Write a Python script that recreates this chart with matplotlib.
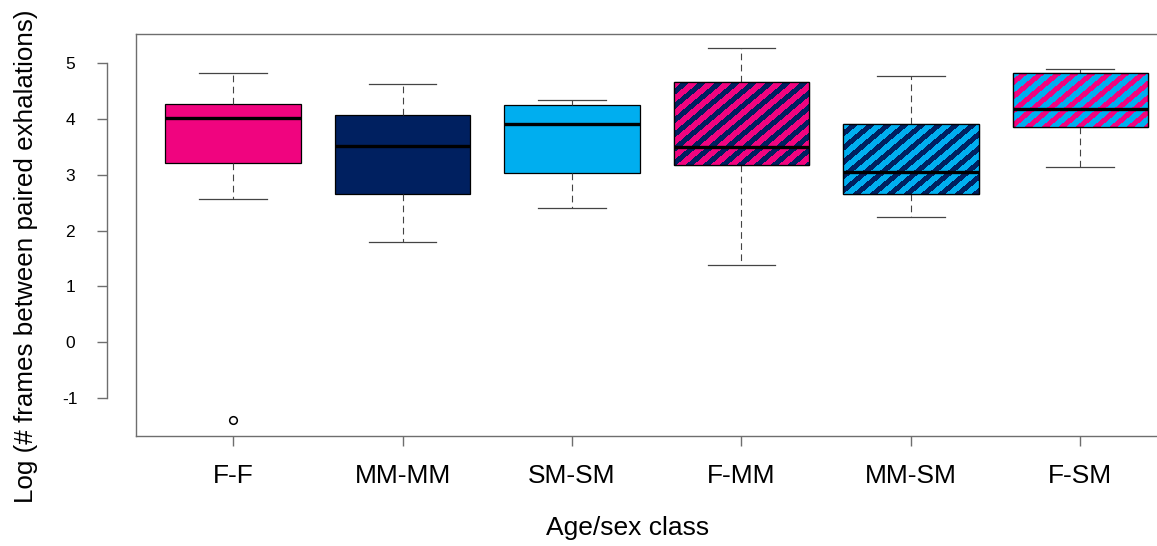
import numpy as np
import matplotlib
matplotlib.use("Agg")
import matplotlib.pyplot as plt
from matplotlib.patches import Polygon

plt.rcParams['font.family'] = ['Liberation Sans', 'DejaVu Sans']

categories = ["F-F", "MM-MM", "SM-SM", "F-MM", "MM-SM", "F-SM"]
whislo = [2.57, 1.79, 2.40, 1.39, 2.25, 3.14]
q1 = [3.20, 2.66, 3.03, 3.17, 2.65, 3.86]
med = [4.01, 3.52, 3.90, 3.49, 3.05, 4.17]
q3 = [4.27, 4.07, 4.24, 4.65, 3.91, 4.82]
whishi = [4.82, 4.63, 4.34, 5.26, 4.76, 4.89]
fliers = [[-1.39], [], [], [], [], []]
yticks = [-1, 0, 1, 2, 3, 4, 5]

PINK = '#F0047F'
NAVY = '#002060'
LBLUE = '#00AEEF'
face_colors = [PINK, NAVY, LBLUE, NAVY, NAVY, PINK]
stripe_colors = [None, None, None, PINK, LBLUE, LBLUE]

W, H = 1157, 546
DPI = 100
fig = plt.figure(figsize=(W / DPI, H / DPI), dpi=DPI)
ax_left, ax_right, ax_top, ax_bot = 135.7, 1182.0, 34.0, 436.0
ax = fig.add_axes([ax_left / W, 1 - ax_bot / H, (ax_right - ax_left) / W, (ax_bot - ax_top) / H])

stats = []
for i, c in enumerate(categories):
    stats.append(dict(label=c, whislo=whislo[i], q1=q1[i], med=med[i], q3=q3[i],
                      whishi=whishi[i], fliers=fliers[i]))

positions = np.arange(1, len(categories) + 1)
bp = ax.bxp(stats, positions=positions, widths=0.8, patch_artist=True,
            showfliers=True, capwidths=0.4,
            boxprops=dict(edgecolor='black', linewidth=0.9),
            whiskerprops=dict(color='#444444', linewidth=0.8, linestyle=(0, (6, 4))),
            capprops=dict(color='#444444', linewidth=0.9),
            medianprops=dict(color='black', linewidth=2.4, solid_capstyle='butt'),
            flierprops=dict(marker='o', markersize=5.5, markerfacecolor='none',
                            markeredgecolor='black', markeredgewidth=1.1))

xlim = (0.425, 6.6)
ylim = (-1.679, 5.518)
ax.set_xlim(*xlim)
ax.set_ylim(*ylim)

# pixel scales
sx = (ax_right - ax_left) / (xlim[1] - xlim[0])
sy = (ax_bot - ax_top) / (ylim[1] - ylim[0])

theta = np.deg2rad(40)
period = 17.0      # horizontal period, px
sw = 7.0           # horizontal stripe width, px

for i, patch in enumerate(bp['boxes']):
    patch.set_facecolor(face_colors[i])
    if stripe_colors[i] is None:
        continue
    x0 = positions[i] - 0.4
    x1 = positions[i] + 0.4
    yb, yt = q1[i], q3[i]
    hpx = (yt - yb) * sy
    wpx = (x1 - x0) * sx
    shift = hpx / np.tan(theta)
    u = -shift - period
    while u < wpx + period:
        verts_px = [(u, 0), (u + sw, 0), (u + sw + shift, hpx), (u + shift, hpx)]
        verts = [(x0 + px / sx, yb + py / sy) for px, py in verts_px]
        poly = Polygon(verts, closed=True, facecolor=stripe_colors[i], edgecolor='none',
                       antialiased=False, zorder=patch.get_zorder() + 0.1)
        ax.add_patch(poly)
        poly.set_clip_path(patch)
        u += period
    # redraw the box outline above the stripes
    outline = Polygon(patch.get_path().vertices, closed=True, facecolor='none',
                      edgecolor='black', linewidth=0.9, zorder=patch.get_zorder() + 0.2)
    ax.add_patch(outline)

for m in bp['medians']:
    m.set_zorder(5)

# frame
FRAME = '#6e6e6e'
for s in ['top', 'right', 'bottom']:
    ax.spines[s].set_color(FRAME)
    ax.spines[s].set_linewidth(1.0)
ax.plot([0, 0], [0, 1], transform=ax.transAxes, color=FRAME, linewidth=1.0,
        clip_on=False, zorder=6)

# separate y axis (R style)
ax.spines['left'].set_position(('outward', 28.4 * 72 / DPI))
ax.spines['left'].set_bounds(-1, 5)
ax.spines['left'].set_color(FRAME)
ax.spines['left'].set_linewidth(1.0)
ax.set_yticks(yticks)
ax.set_yticklabels([str(t) for t in yticks], fontsize=12.5, ha='center')
ax.tick_params(axis='y', length=10 * 72 / DPI, width=1.0, color=FRAME,
               pad=27 * 72 / DPI)

ax.set_xticks(positions)
ax.set_xticklabels(categories, fontsize=19)
ax.tick_params(axis='x', length=10 * 72 / DPI, width=1.0, color=FRAME,
               pad=18 * 72 / DPI)

fig.text(628 / W, 1 - 528 / H, "Age/sex class", fontsize=19, ha='center', va='center')
fig.text(26 / W, 1 - 256 / H, "Log (# frames between paired exhalations)", fontsize=18.7,
         ha='center', va='center', rotation=90)

fig.savefig("out.png", dpi=DPI)
